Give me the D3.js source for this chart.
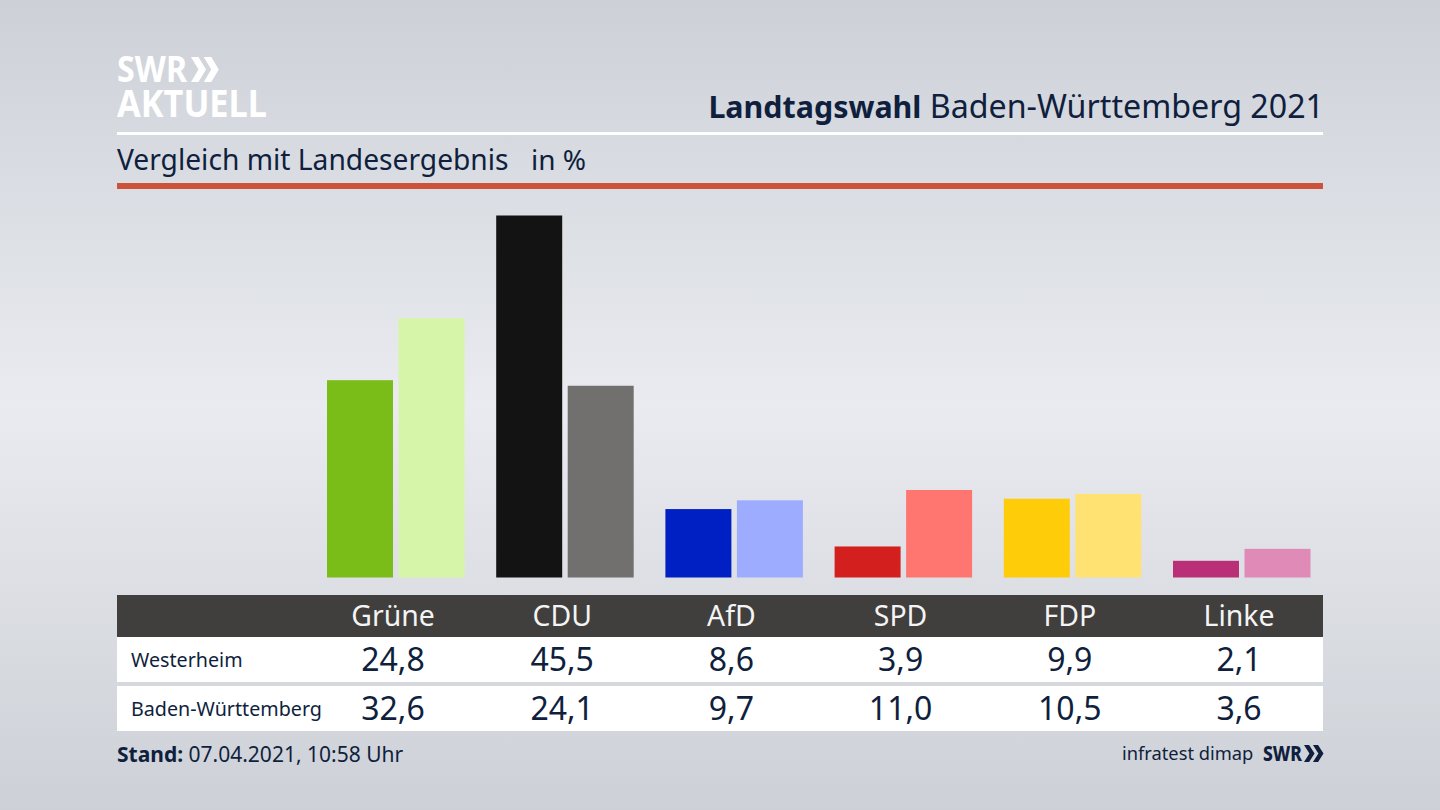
<!DOCTYPE html>
<html><head><meta charset="utf-8">
<script src="https://cdn.jsdelivr.net/npm/d3@7/dist/d3.min.js"></script>
<style>html,body{margin:0;padding:0;background:#d8dbe0}svg{display:block}text{font-family:"Noto Sans",sans-serif}</style>
</head><body><svg id="c" width="1440" height="810"></svg>
<script>
const parties=["Grüne","CDU","AfD","SPD","FDP","Linke"];
const rowNames=["Westerheim","Baden-Württemberg"];
const westerheim=[24.8,45.5,8.6,3.9,9.9,2.1];
const landesergebnis=[32.6,24.1,9.7,11.0,10.5,3.6];
const darkColors=["#7abd18","#131313","#0020c4","#d41f1f","#ffcc0a","#b93078"];
const lightColors=["#d6f5a8","#72706e","#9eacff","#ff7670","#ffe272","#e08ab8"];
const fmt=v=>v.toFixed(1).replace(".",",");
const ink="#0f1f3d";
const svg=d3.select("#c");
const defs=svg.append("defs");
const g=defs.append("linearGradient").attr("id","bg").attr("x1",0).attr("y1",0).attr("x2",0).attr("y2",1);
[[0,"#cdd1d7"],[0.5,"#e9ebf0"],[1,"#cdd0d6"]].forEach(s=>g.append("stop").attr("offset",s[0]).attr("stop-color",s[1]));
svg.append("rect").attr("width",1440).attr("height",810).attr("fill","url(#bg)");
const x=d3.scalePoint().domain(parties).range([393,1239]);
const y=d3.scaleLinear().domain([0,45.5]).range([577.5,215.5]);
const barW=66,gap=5.5;
const chev=(s,ox,oy,h,col,wk)=>{const w=h*wk,t=h*0.3;
  [0,1].forEach(i=>{const a=ox+i*(w*0.85);
  s.append("path").attr("d",`M${a},${oy}L${a+t},${oy}L${a+w},${oy+h/2}L${a+t},${oy+h}L${a},${oy+h}L${a+w-t},${oy+h/2}Z`).attr("fill",col);});};
// logo
svg.append("text").attr("x",117).attr("y",82).attr("font-size",35).attr("font-weight",700).attr("fill","#fff").attr("textLength",70).attr("lengthAdjust","spacingAndGlyphs").text("SWR");
chev(svg,191,57,25,"#fff",0.6);
svg.append("text").attr("x",117).attr("y",117).attr("font-size",37).attr("font-weight",700).attr("fill","#fff").attr("textLength",150).attr("lengthAdjust","spacingAndGlyphs").text("AKTUELL");
// title
const title=svg.append("text").attr("x",1324).attr("y",118).attr("text-anchor","end").attr("font-size",32.2).attr("fill",ink);
title.append("tspan").attr("font-weight",700).attr("font-size",30.4).text("Landtagswahl");
title.append("tspan").text(" Baden-Württemberg 2021");
svg.append("rect").attr("x",117).attr("y",132).attr("width",1206).attr("height",3).attr("fill","#fff");
svg.append("text").attr("x",117).attr("y",170).attr("font-size",28.2).attr("fill",ink).text("Vergleich mit Landesergebnis");
svg.append("text").attr("x",531).attr("y",170).attr("font-size",28).attr("fill",ink).text("in %");
svg.append("rect").attr("x",117).attr("y",183).attr("width",1206).attr("height",6).attr("fill","#cc5239");
// bars
svg.selectAll(".a").data(parties).join("rect").attr("class","a")
 .attr("x",d=>x(d)-barW).attr("width",barW).attr("y",(d,i)=>y(westerheim[i])).attr("height",(d,i)=>y(0)-y(westerheim[i])).attr("fill",(d,i)=>darkColors[i]);
svg.selectAll(".b").data(parties).join("rect").attr("class","b")
 .attr("x",d=>x(d)+gap).attr("width",barW).attr("y",(d,i)=>y(landesergebnis[i])).attr("height",(d,i)=>y(0)-y(landesergebnis[i])).attr("fill",(d,i)=>lightColors[i]);
// table
svg.append("rect").attr("x",117).attr("y",595).attr("width",1206).attr("height",42).attr("fill","#403f3d");
svg.append("rect").attr("x",117).attr("y",637).attr("width",1206).attr("height",45).attr("fill","#fff");
svg.append("rect").attr("x",117).attr("y",686).attr("width",1206).attr("height",45).attr("fill","#fff");
svg.selectAll(".h").data(parties).join("text").attr("class","h").attr("x",d=>x(d)).attr("y",626).attr("text-anchor","middle").attr("font-size",28.4).attr("fill","#f4f4f4").text(d=>d);
[[westerheim,671,667],[landesergebnis,720,716]].forEach((r,k)=>{
 svg.selectAll(".v"+k).data(r[0]).join("text").attr("class","v"+k).attr("x",(d,i)=>x(parties[i])).attr("y",r[1]).attr("text-anchor","middle").attr("font-size",32).attr("fill",ink).text(fmt);
 svg.append("text").attr("x",131).attr("y",r[2]).attr("font-size",19.7).attr("fill",ink).text(rowNames[k]);
});
// footer
const st=svg.append("text").attr("x",117).attr("y",762).attr("font-size",21).attr("fill",ink);
st.append("tspan").attr("font-weight",700).text("Stand:");
st.append("tspan").text(" 07.04.2021, 10:58 Uhr");
svg.append("text").attr("x",1122).attr("y",760).attr("font-size",18.3).attr("fill",ink).text("infratest dimap");
svg.append("text").attr("x",1263).attr("y",761).attr("font-size",21).attr("font-weight",800).attr("fill",ink).attr("textLength",39).attr("lengthAdjust","spacingAndGlyphs").text("SWR");
chev(svg,1304,745,17,ink,0.62);
</script></body></html>
